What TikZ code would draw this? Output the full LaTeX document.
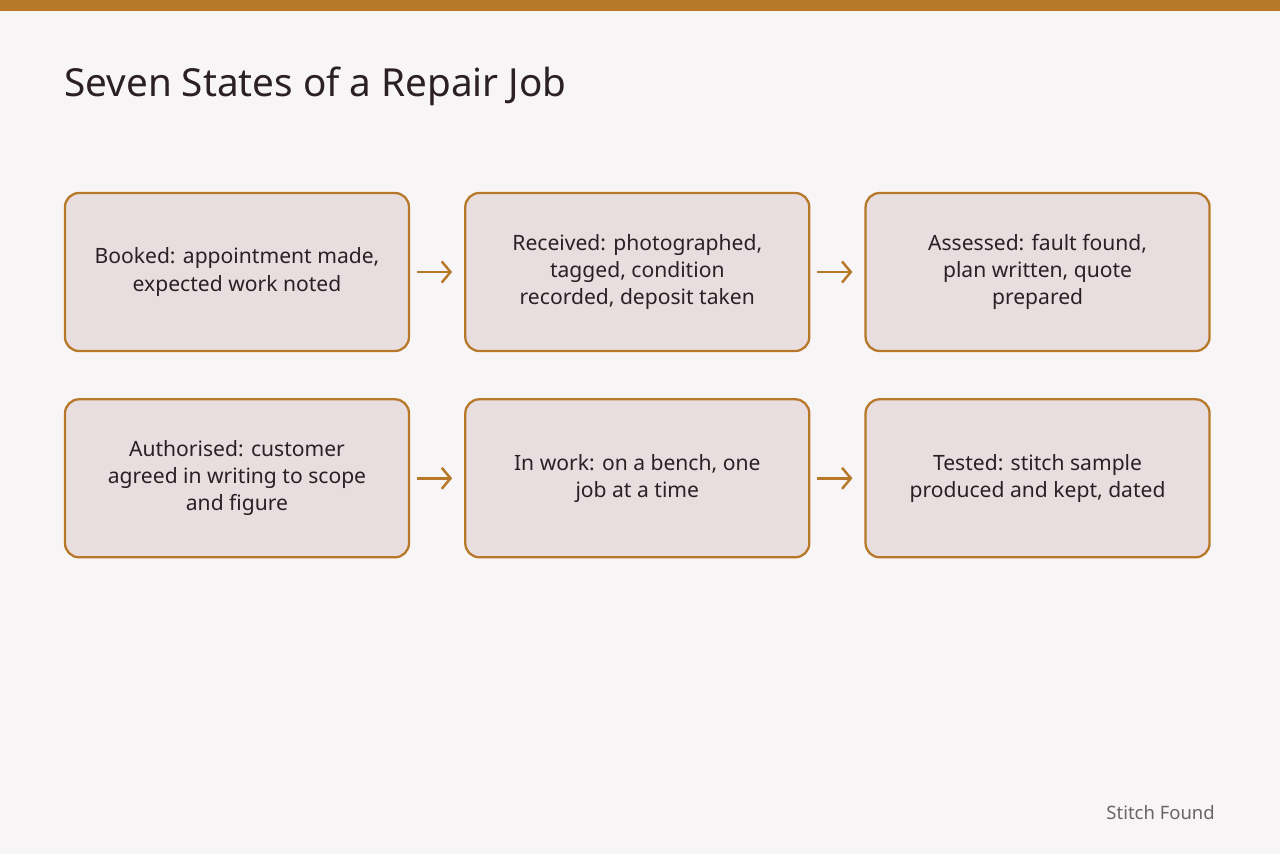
\documentclass[tikz,border=0pt]{standalone}
\usepackage{fontspec}
\setmainfont{Noto Sans}
\usetikzlibrary{positioning,arrows.meta}
\definecolor{jobbrown}{HTML}{B87829}
\definecolor{jobpaper}{HTML}{F7F5F5}
\definecolor{jobfill}{HTML}{E8DEE0}
\definecolor{jobink}{HTML}{2B2024}
\tikzset{
  state/.style={draw=jobbrown, line width=1.3pt, fill=jobfill, rounded corners=8pt,
    minimum width=6.88cm, minimum height=3.16cm, align=center,
    font=\fontsize{12}{15.4}\selectfont, text=jobink, inner sep=0pt},
  advance/.style={draw=jobbrown, line width=1.4pt, -{Straight Barb[length=5pt,width=12pt]},
    shorten <=0.14cm, shorten >=0.24cm}
}
\begin{document}
\begin{tikzpicture}
% canvas and top bar
\fill[jobpaper] (0,0) rectangle (25.6,-17.08);
\useasboundingbox (0,0) rectangle (25.6,-17.08);
\fill[jobbrown] (0,0) rectangle (25.6,-0.21);
\node[anchor=base west, font=\fontsize{22}{26}\selectfont, text=jobink, inner sep=0pt]
  (title) at (1.28,-1.92) {Seven States of a Repair Job};

% first row
\node[state] (booked) at (4.74,-5.44) {Booked: appointment made,\\expected work noted};
\node[state, right=1.08cm of booked] (received) {Received: photographed,\\tagged, condition\\recorded, deposit taken};
\node[state, right=1.08cm of received] (assessed) {Assessed: fault found,\\plan written, quote\\prepared};
% second row
\node[state, below=0.92cm of booked] (authorised) {Authorised: customer\\agreed in writing to scope\\and figure};
\node[state, right=1.08cm of authorised] (inwork) {In work: on a bench, one\\job at a time};
\node[state, right=1.08cm of inwork] (tested) {Tested: stitch sample\\produced and kept, dated};

\draw[advance] (booked) -- (received);
\draw[advance] (received) -- (assessed);
\draw[advance] (authorised) -- (inwork);
\draw[advance] (inwork) -- (tested);

\node[anchor=base east, font=\fontsize{10.5}{12}\selectfont, text=jobink!70, inner sep=0pt]
  (footer) at (24.3,-16.38) {Stitch Found};
\end{tikzpicture}
\end{document}
